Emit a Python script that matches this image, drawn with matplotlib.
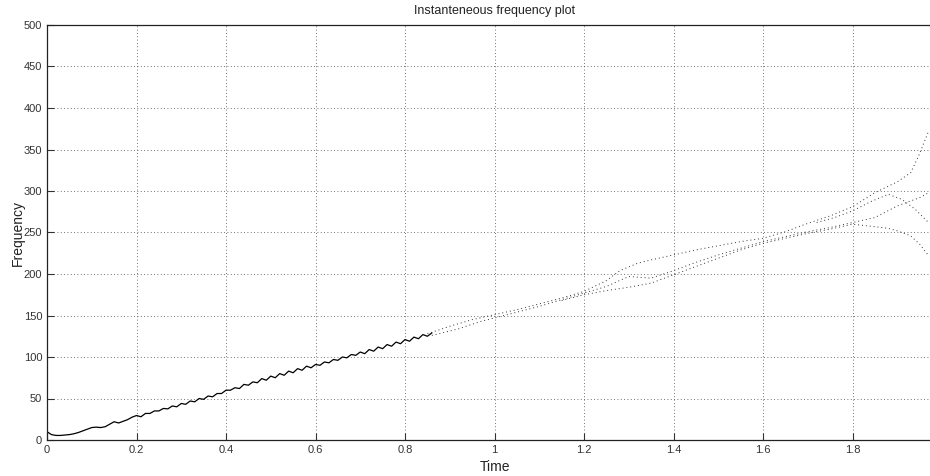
import numpy as np
import matplotlib
matplotlib.use("Agg")
import matplotlib.pyplot as plt

plt.rcParams['font.family'] = ['Liberation Sans', 'DejaVu Sans']

# early part: a continuous wiggly line, sampled every 0.01 s
t_line = [round(0.01 * i, 2) for i in range(87)]
f_line = [10, 6.5, 5.5, 5.5, 6, 6.5, 7.5, 9, 11, 13,
          15, 15.5, 15, 16, 19, 22, 20.5, 22.5, 24.5, 27.5,
          29.5, 28, 32, 32, 35, 35, 38, 37.5, 41, 40,
          44, 43, 47, 46, 50, 49, 53, 52, 56, 56,
          60, 60, 63, 62, 67, 66, 70, 69, 74, 72,
          77, 75, 80, 78, 83, 81, 86, 84, 89, 87,
          91, 90, 94, 93, 97, 96, 100, 99, 103, 102,
          106, 104, 109, 107, 112, 110, 115, 113, 118, 116,
          121, 119, 124, 122, 127, 125, 129]

# later part: the estimate breaks up into several dotted branches
t_branch_a = [0.85, 0.9, 0.95, 1.0, 1.05, 1.1, 1.15, 1.2, 1.25, 1.28, 1.32, 1.35,
              1.4, 1.45, 1.5, 1.55, 1.6, 1.65, 1.7, 1.75, 1.8, 1.85, 1.9,
              1.93, 1.95, 1.97]
f_branch_a = [128, 137, 145, 151, 157, 164, 171, 179, 192, 204, 213, 217,
              223, 229, 234, 239, 243, 251, 261, 270, 281, 298, 311,
              322, 345, 372]

t_branch_b = [0.86, 0.92, 0.97, 1.0, 1.1, 1.2, 1.25, 1.3, 1.35, 1.4, 1.45,
              1.5, 1.55, 1.6, 1.65, 1.7, 1.75, 1.8, 1.85, 1.9, 1.95, 1.97]
f_branch_b = [126, 134, 143, 147, 161, 177, 185, 197, 195, 204, 214,
              223, 231, 239, 245, 251, 256, 262, 268, 282, 292, 298]

t_branch_c = [1.15, 1.2, 1.25, 1.3, 1.35, 1.4, 1.45, 1.5, 1.55, 1.6, 1.65,
              1.7, 1.75, 1.8, 1.85, 1.88, 1.9, 1.93, 1.95, 1.97]
f_branch_c = [168, 175, 180, 184, 189, 199, 209, 219, 229, 237, 243,
              249, 254, 260, 257, 255, 252, 246, 236, 222]

t_branch_d = [1.72, 1.76, 1.8, 1.84, 1.88, 1.91, 1.94, 1.97]
f_branch_d = [262, 268, 276, 287, 296, 290, 278, 262]

fig = plt.figure(figsize=(9.3, 4.76), dpi=100)
ax = fig.add_axes([47 / 930, 36 / 476, 895 / 930, 415 / 476])

ax.plot(t_line, f_line, color='black', lw=0.9)
for tb, fb in [(t_branch_a, f_branch_a), (t_branch_b, f_branch_b),
               (t_branch_c, f_branch_c), (t_branch_d, f_branch_d)]:
    ax.plot(tb, fb, color='#333333', lw=0.7, linestyle=(0, (1, 3)))

ax.set_xlim(0, 2)
ax.set_ylim(0, 500)
ax.set_xticks(np.arange(0, 1.81, 0.2))
ax.set_xticklabels(['0', '0.2', '0.4', '0.6', '0.8', '1', '1.2', '1.4', '1.6', '1.8'])
ax.set_yticks(np.arange(0, 501, 50))

ax.grid(True, color='#444444', linestyle=(0, (1, 3)), lw=0.6)
ax.tick_params(direction='in', length=5, width=0.8, labelsize=8,
               colors='#333333', top=False, right=False)
for s in ax.spines.values():
    s.set_color('#222222')
    s.set_linewidth(0.9)

ax.set_title('Instanteneous frequency plot', fontsize=9, color='#222222', pad=8)
ax.set_xlabel('Time', fontsize=10, color='#222222', labelpad=4)
ax.set_ylabel('Frequency', fontsize=10, color='#222222', labelpad=-1)

fig.savefig('out.png', dpi=100)
